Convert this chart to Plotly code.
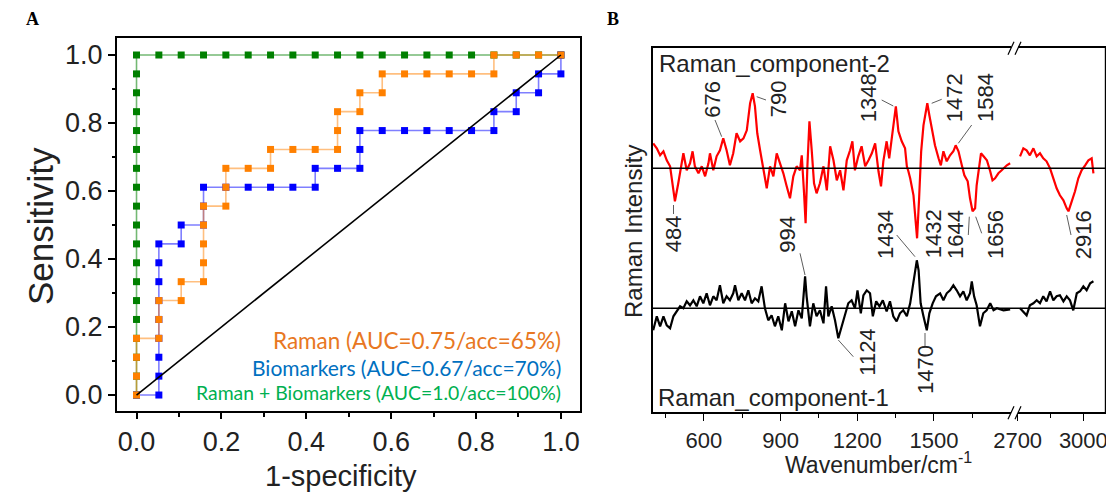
import plotly.graph_objects as go

W, H = 1114, 498

# ---------------- Panel A data (ROC, counted in steps: 19 negatives, 18 positives) ----------------
N_NEG, N_POS = 19, 18
raman_fp = [0,0,0,0,1,1,1,2,2,3,3,3,3,3,4,4,4,5,6,6,7,8,9,9,9,10,10,11,11,12,13,14,15,16,16,17,18,19]
raman_tp = [0,1,2,3,3,4,5,5,6,6,7,8,9,10,10,11,12,12,12,13,13,13,13,14,15,15,16,16,17,17,17,17,17,17,18,18,18,18]
bio_fp = [0,1,1,1,1,1,1,1,1,1,2,2,3,3,3,4,5,6,7,8,8,9,10,10,10,11,12,13,14,15,16,16,17,17,18,18,19,19]
bio_tp = [0,0,1,2,3,4,5,6,7,8,8,9,9,10,11,11,11,11,11,11,12,12,12,13,14,14,14,14,14,14,14,15,15,16,16,17,17,18]
comb_fp = [0,0,0,0,0,0,0,0,0,0,0,0,0,0,0,0,0,0,0,1,2,3,4,5,6,7,8,9,10,11,12,13,14,15,16,17,18,19]
comb_tp = [0,1,2,3,4,5,6,7,8,9,10,11,12,13,14,15,16,17,18,18,18,18,18,18,18,18,18,18,18,18,18,18,18,18,18,18,18,18]
legend_labels = ["Raman (AUC=0.75/acc=65%)", "Biomarkers (AUC=0.67/acc=70%)",
                 "Raman + Biomarkers (AUC=1.0/acc=100%)"]
a_ticks = [0.0, 0.2, 0.4, 0.6, 0.8, 1.0]
a_minor = [0.1, 0.3, 0.5, 0.7, 0.9]

# ---------------- Panel B data (Raman components, intensity a.u. around each baseline) ----------------
red_left_wn = [402,416,429,442,455,468,481,487,500,513,
               520,533,546,556,565,579,592,605,618,624,
               637,650,663,676,689,702,715,728,742,755,
               768,781,791,800,809,820,833,846,859,872,
               885,898,911,924,937,950,963,976,983,992,
               998,1005,1013,1022,1031,1041,1054,1068,1081,1094,
               1107,1120,1133,1146,1159,1172,1181,1191,1204,1217,
               1231,1244,1257,1270,1283,1293,1302,1315,1325,1335,
               1341,1351,1361,1374,1387,1394,1400,1407,1420,1426,
               1434,1442,1450,1459,1468,1474,1482,1491,1504,1518,
               1527,1537,1550,1563,1576,1585,1596,1609,1619,1632,
               1641,1651,1661,1667,1677,1684,1694,1707,1720,1729,
               1739,1752,1765,1785,1798]
red_left_val = [25,20,13,17,8,2,-22,-33,-15,5,
                15,-2,5,17,2,-5,2,-8,5,15,
                -2,12,18,30,18,3,15,35,27,30,
                38,65,75,62,35,18,-2,-20,2,-8,
                15,5,-5,-18,-30,-8,2,-2,13,-25,
                -55,2,47,18,-15,-25,-15,2,-22,22,
                8,-12,-2,-22,8,18,27,-2,12,22,
                2,8,15,25,-3,-18,7,27,10,30,
                43,62,37,27,20,2,-3,-10,-27,-47,
                -70,-30,17,43,58,65,53,40,23,10,
                3,17,7,13,17,23,17,3,-7,-13,
                -30,-43,-40,-17,0,15,12,8,-3,-12,
                -10,-5,-2,3,5]
red_right_wn = [2711,2726,2741,2756,2772,2787,2802,2817,2832,2848,2863,2878,
                2893,2909,2924,2932,2947,2962,2977,2992,3008,3023,3038,3046]
red_right_val = [12,20,18,13,20,12,15,10,7,0,-10,-20,
                 -27,-32,-40,-43,-33,-23,-10,-2,3,8,10,-5]

black_left_wn = [402,416,429,442,455,468,481,494,507,520,
                 533,546,559,572,585,598,611,624,637,650,
                 663,676,689,702,715,722,735,748,761,774,
                 787,800,813,826,839,852,865,878,891,905,
                 918,931,944,957,970,983,989,996,1002,1015,
                 1028,1041,1054,1068,1078,1087,1100,1113,1126,1139,
                 1152,1165,1178,1191,1201,1214,1224,1237,1250,1261,
                 1274,1287,1300,1315,1328,1341,1354,1367,1380,1394,
                 1407,1417,1426,1433,1440,1448,1459,1472,1482,1495,
                 1508,1524,1537,1550,1563,1576,1589,1602,1615,1628,
                 1641,1648,1657,1667,1680,1693,1706,1720,1733,1746,
                 1772,1798]
black_left_val = [-22,-8,-18,-8,-17,-20,-8,-3,2,0,
                  7,3,8,2,12,5,15,3,12,8,
                  23,5,12,8,15,23,8,15,8,18,
                  5,10,7,22,0,-12,-7,-18,-8,-22,
                  5,-13,-3,-18,-2,-10,12,32,12,-18,
                  5,-8,-2,-15,22,-8,2,-12,-30,-18,
                  -8,5,8,0,18,-5,13,18,15,-8,
                  7,2,8,-3,7,-8,-13,-5,-2,-8,
                  5,22,33,48,38,5,-8,-22,-5,5,
                  12,15,8,15,18,23,18,12,17,8,
                  15,27,12,3,-18,-5,-2,5,-2,0,
                  -2,-1]
black_right_wn = [2711,2726,2741,2756,2772,2787,2802,2817,2832,2848,2863,2878,
                  2893,2909,2924,2939,2954,2970,2985,3000,3015,3031,3046]
black_right_val = [0,-3,-7,3,5,8,5,12,7,17,8,12,
                   13,7,12,8,-2,15,17,22,18,25,27]

b_left_ticks = [600, 900, 1200, 1500]
b_left_minor = [450, 750, 1050, 1350, 1650]
b_right_ticks = [2700, 3000]
b_right_minor = [2850]

# ---------------- helpers (page body adds an 8px offset) ----------------
OX, OY = 8, 8

def PX(x):
    return (x - OX) / W

def PY(y):
    return 1 - (y - OY) / H

SANS = "Liberation Sans"
fig = go.Figure()

# Panel A traces
series = [
    (comb_fp, comb_tp, "#008000", "rgba(0,128,0,0.55)"),
    (bio_fp, bio_tp, "#0000FF", "rgba(0,0,255,0.5)"),
    (raman_fp, raman_tp, "#FF8000", "rgba(255,128,0,0.5)"),
]
for fp, tp, mc, lc in series:
    fig.add_trace(go.Scatter(
        x=[v / N_NEG for v in fp], y=[v / N_POS for v in tp],
        mode="lines+markers", line=dict(color=lc, width=1.6),
        marker=dict(symbol="square", size=7, color=mc),
        xaxis="x", yaxis="y", showlegend=False, hoverinfo="skip"))
fig.add_trace(go.Scatter(x=[0, 1], y=[0, 1], mode="lines",
                         line=dict(color="black", width=1.6),
                         xaxis="x", yaxis="y", showlegend=False))

# Panel B traces
RED_BASE = 412.3 - 168.3
BLACK_BASE = 412.3 - 308.3
for wn, val, ax, base, col in [
    (red_left_wn, red_left_val, "x2", RED_BASE, "#FF0000"),
    (red_right_wn, red_right_val, "x3", RED_BASE, "#FF0000"),
    (black_left_wn, black_left_val, "x2", BLACK_BASE, "#000000"),
    (black_right_wn, black_right_val, "x3", BLACK_BASE, "#000000"),
]:
    fig.add_trace(go.Scatter(x=wn, y=[base + v for v in val], mode="lines",
                             line=dict(color=col, width=2.2),
                             xaxis=ax, yaxis="y2", showlegend=False))

axis_common = dict(showline=True, linecolor="black", ticks="outside", automargin=False,
                   tickcolor="black", showgrid=False, zeroline=False)

fig.update_layout(
    width=W, height=H, margin=dict(l=0, r=0, t=0, b=0, pad=0),
    paper_bgcolor="white", plot_bgcolor="white", showlegend=False,
    xaxis=dict(domain=[PX(117), PX(580)], range=[-0.046, 1.045], anchor="y",
               tickvals=a_ticks, ticktext=[f"{v:.1f}" for v in a_ticks],
               ticklen=6, tickwidth=1.5, mirror=True, linewidth=2,
               minor=dict(tickvals=a_minor, ticklen=3.5, tickwidth=1.5, ticks="outside", tickcolor="black"),
               tickfont=dict(family=SANS, size=27, color="#222"), **axis_common),
    yaxis=dict(domain=[PY(411), PY(38)], range=[-0.047, 1.05], anchor="x",
               tickvals=a_ticks, ticktext=[f"{v:.1f}" for v in a_ticks],
               ticklen=7, tickwidth=1.5, mirror=True, linewidth=2,
               minor=dict(tickvals=a_minor, ticklen=3.5, tickwidth=1.5, ticks="outside", tickcolor="black"),
               tickfont=dict(family=SANS, size=27, color="#222"), **axis_common),
    xaxis2=dict(domain=[PX(652.7), PX(1015)], range=[400, 1817], anchor="y2",
                tickvals=b_left_ticks, ticklen=7, tickwidth=1.2, mirror=True, linewidth=1.8,
                minor=dict(tickvals=b_left_minor, ticklen=4, tickwidth=1.2, ticks="outside", tickcolor="black"),
                tickfont=dict(family=SANS, size=22, color="#222"), **axis_common),
    xaxis3=dict(domain=[PX(1015), PX(1105.7)], range=[2688, 3102], anchor="y2",
                tickvals=b_right_ticks, ticklen=7, tickwidth=1.2, mirror=True, linewidth=1.8,
                minor=dict(tickvals=b_right_minor, ticklen=4, tickwidth=1.2, ticks="outside", tickcolor="black"),
                tickfont=dict(family=SANS, size=22, color="#222"), **axis_common),
    yaxis2=dict(domain=[PY(412.3), PY(47.7)], range=[0, 364.6], anchor="x2", automargin=False,
                showline=True, linecolor="black", linewidth=1.8, ticks="",
                showticklabels=False, showgrid=False, zeroline=False),
)

shapes = []
# right frame edge of panel B
shapes.append(dict(type="line", xref="paper", yref="paper", x0=PX(1105.7), x1=PX(1105.7),
                   y0=PY(412.3), y1=PY(47.7), line=dict(color="black", width=1.8)))
# baselines
for base in (RED_BASE, BLACK_BASE):
    shapes.append(dict(type="line", xref="paper", yref="y2", x0=PX(652.7), x1=PX(1105.7),
                       y0=base, y1=base, line=dict(color="black", width=1.5)))
# axis break marks
for yb in (47.7, 412.3):
    shapes.append(dict(type="rect", xref="paper", yref="paper", x0=PX(1011), x1=PX(1018),
                       y0=PY(yb + 2), y1=PY(yb - 2), fillcolor="white", line=dict(width=0)))
    for dx in (0, 7):
        shapes.append(dict(type="line", xref="paper", yref="paper",
                           x0=PX(1008 + dx), y0=PY(yb + 7), x1=PX(1014 + dx), y1=PY(yb - 6),
                           line=dict(color="black", width=1.2)))
# leader lines for peak labels
leaders = [
    (715, 120, 721.7, 136.7), (756.7, 96.7, 766, 100), (881.7, 100, 893.3, 106),
    (931.7, 103.3, 941.7, 99.3), (958.3, 143.3, 971.7, 125),
    (673.5, 205, 673.5, 214), (800, 253.3, 805, 275), (896.7, 235, 915, 256.7),
    (969.3, 216.7, 968.3, 235), (975.7, 216.7, 981.7, 233.3), (1066.7, 215, 1071, 235),
    (838.3, 340, 853.3, 356.7), (925, 333, 925, 346),
]
for x0, y0, x1, y1 in leaders:
    shapes.append(dict(type="line", xref="paper", yref="paper", x0=PX(x0), y0=PY(y0),
                       x1=PX(x1), y1=PY(y1), line=dict(color="#333", width=0.8)))
fig.update_layout(shapes=shapes)

ann = []
def text(x, y, s, size, color="#222", family=SANS, angle=0, xanchor="center", bold=False):
    ann.append(dict(x=PX(x), y=PY(y), xref="paper", yref="paper", text=f"<b>{s}</b>" if bold else s,
                    showarrow=False, textangle=angle, xanchor=xanchor, yanchor="middle",
                    font=dict(family=family, size=size, color=color)))

text(32, 19, "A", 18, color="black", family="Liberation Serif", bold=True)
text(613, 19, "B", 18, color="black", family="Liberation Serif", bold=True)
text(40, 226, "Sensitivity", 35, angle=-90)
text(341, 476, "1-specificity", 29)
leg_cols = ["#E87722", "#0070C0", "#00B050"]
leg_sizes = [22.5, 21, 19.4]
for lbl, col, yy, sz in zip(legend_labels, leg_cols, [340, 367, 392.5], leg_sizes):
    text(563, yy, lbl, sz, color=col, family="Lato", xanchor="right")

text(633, 232, "Raman Intensity", 24, angle=-90)
text(878, 463, "Wavenumber/cm<sup>-1</sup>", 23)
text(656.5, 63, "Raman_component-2", 24, xanchor="left")
text(656, 397, "Raman_component-1", 24, xanchor="left")
peak_labels = [
    ("676", 711.7, 99), ("790", 778.3, 99), ("1348", 868.3, 98), ("1472", 954.3, 98),
    ("1584", 985, 98), ("484", 673.3, 234), ("994", 786.7, 234), ("1434", 885, 235),
    ("1432", 933.3, 234), ("1644", 955, 235), ("1656", 995, 235), ("2916", 1083.3, 235),
    ("1124", 866.7, 352), ("1470", 925, 370),
]
for s, x, y in peak_labels:
    text(x, y, s, 22, angle=-90)
fig.update_layout(annotations=ann)

fig.write_html("out.html")
